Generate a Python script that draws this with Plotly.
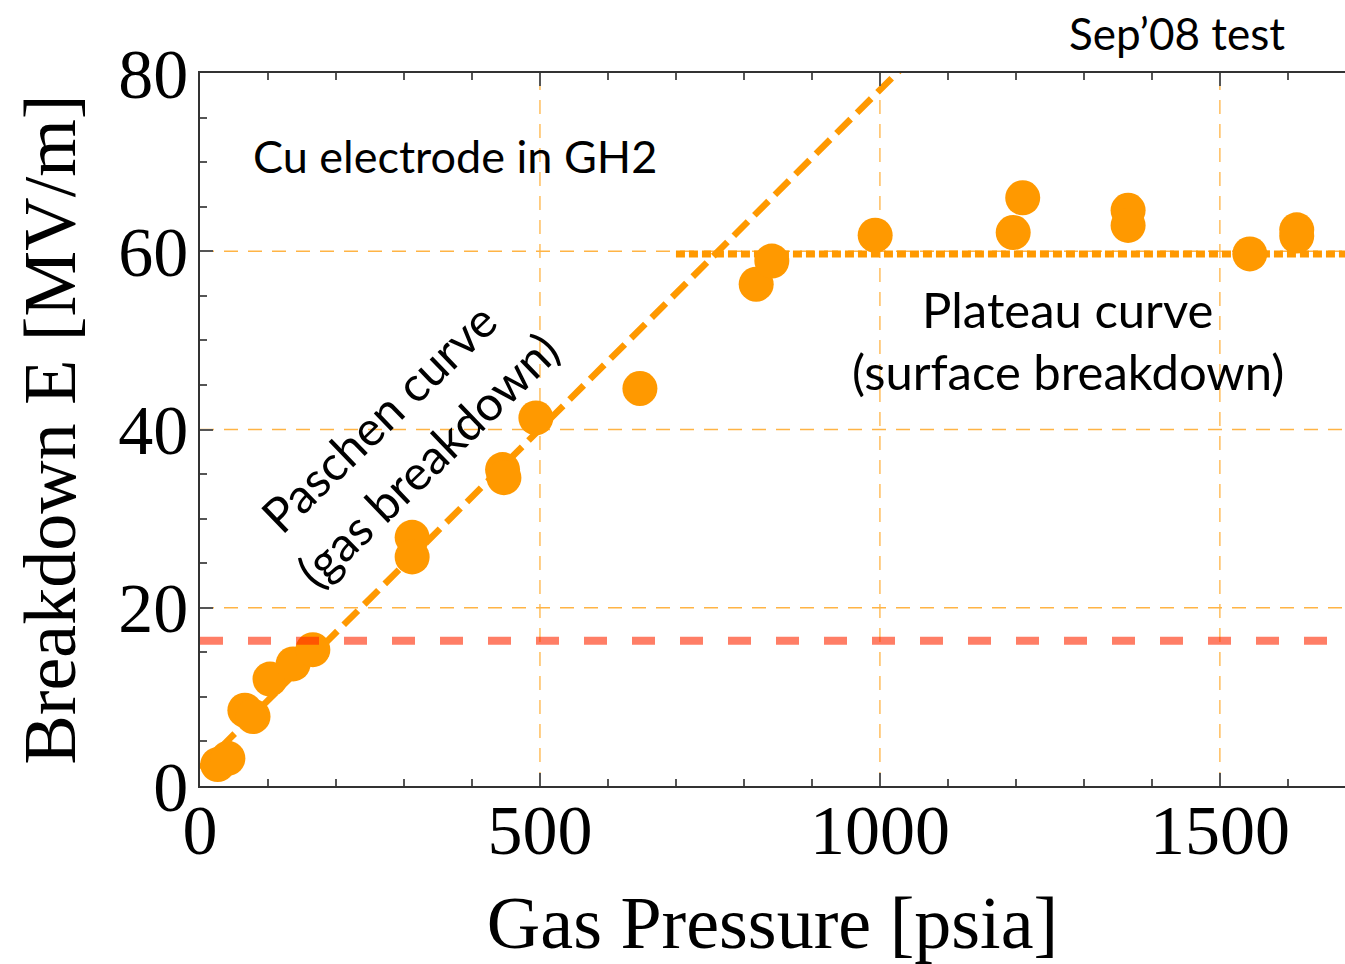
import plotly.graph_objects as go

# Measured breakdown points
pressure_psia = [26, 41, 66, 78, 103, 137, 166, 312, 312, 445, 447, 494, 647,
                 818, 841, 993, 1196, 1210, 1365, 1365, 1544, 1613, 1613]
breakdown_mvm = [2.4, 3.1, 8.5, 7.8, 12.0, 13.7, 15.3, 27.9, 25.7, 35.5, 34.6, 41.3, 44.6,
                 56.3, 58.9, 61.8, 62.1, 66.0, 64.6, 62.9, 59.7, 62.4, 61.7]

# Paschen (gas breakdown) linear curve
paschen_x = [0, 1100]
paschen_y = [2.0, 2.0 + 0.0761 * 1100]

# Plateau (surface breakdown) level
plateau_x = [700, 1684]
plateau_y = [59.7, 59.7]

# Red reference level
ref_x = [0, 1684]
ref_y = [16.3, 16.3]

x_ticks = [0, 500, 1000, 1500]
y_ticks = [0, 20, 40, 60, 80]

ORANGE = "#FF9900"
GRID = "#FFB445"
serif = "Liberation Serif, Times New Roman, serif"
sans = "Lato, Open Sans, sans-serif"

fig = go.Figure()

# dashed orange grid lines at the major ticks (inside the frame)
for v in x_ticks[1:]:
    fig.add_shape(type="line", xref="x", yref="paper", x0=v, x1=v, y0=0, y1=1,
                  layer="below", line=dict(color=GRID, width=1.3, dash="14px,10px"))
for v in y_ticks[1:-1]:
    fig.add_shape(type="line", xref="paper", yref="y", x0=0, x1=1, y0=v, y1=v,
                  layer="below", line=dict(color=GRID, width=1.3, dash="14px,10px"))

fig.add_trace(go.Scatter(x=paschen_x, y=paschen_y, mode="lines",
                         line=dict(color=ORANGE, width=6.5, dash="20px,9px"),
                         hoverinfo="skip", showlegend=False))
fig.add_trace(go.Scatter(x=plateau_x, y=plateau_y, mode="lines",
                         line=dict(color=ORANGE, width=7, dash="9px,4px"),
                         hoverinfo="skip", showlegend=False))
fig.add_trace(go.Scatter(x=pressure_psia, y=breakdown_mvm, mode="markers",
                         marker=dict(color=ORANGE, size=35, line=dict(width=0)),
                         cliponaxis=False, showlegend=False))
fig.add_trace(go.Scatter(x=ref_x, y=ref_y, mode="lines",
                         line=dict(color="rgba(255,40,0,0.6)", width=8, dash="23px,25px"),
                         hoverinfo="skip", showlegend=False))

axis_common = dict(
    showline=True, linecolor="#333", linewidth=1.5,
    ticks="inside", ticklen=13, tickwidth=1.5, tickcolor="#555",
    showgrid=False, zeroline=False,
    tickfont=dict(family=serif, size=70, color="black"),
    title_font=dict(family=serif, size=74, color="black"),
)

fig.update_xaxes(**axis_common, range=[0, 1684], tickvals=x_ticks,
                 mirror="ticks", ticklabelstandoff=-18,
                 minor=dict(dtick=100, tick0=0, ticks="inside", ticklen=7,
                            tickwidth=1.5, tickcolor="#555", showgrid=False),
                 title=dict(text="Gas Pressure [psia]", standoff=33))
fig.update_yaxes(**axis_common, range=[0, 80], tickvals=y_ticks,
                 mirror=False, ticklabelstandoff=-4,
                 minor=dict(dtick=5, tick0=0, ticks="inside", ticklen=7,
                            tickwidth=1.5, tickcolor="#555", showgrid=False),
                 title=dict(text="Breakdown E [MV/m]", standoff=18))

def label(x, y, text, size, angle=0, xref="x", yref="y"):
    fig.add_annotation(x=x, y=y, xref=xref, yref=yref, text=text, showarrow=False,
                       xanchor="center", yanchor="middle", textangle=angle,
                       font=dict(family=sans, size=size, color="black"))

label(375, 70.7, "Cu electrode in GH2", 45)
label(1276, 53.5, "Plateau curve", 49)
label(1276, 46.6, "(surface breakdown)", 49)
label(262, 41.3, "Paschen curve", 48, angle=-44)
label(334, 36.6, "(gas breakdown)", 48, angle=-44)
label(0.853, 1.056, "Sep’08 test", 44, xref="paper", yref="paper")

fig.update_layout(
    template="none",
    width=1345, height=964,
    margin=dict(l=200, r=0, t=73, b=178),
    paper_bgcolor="white", plot_bgcolor="white",
    showlegend=False,
)

fig.write_html("out.html")
